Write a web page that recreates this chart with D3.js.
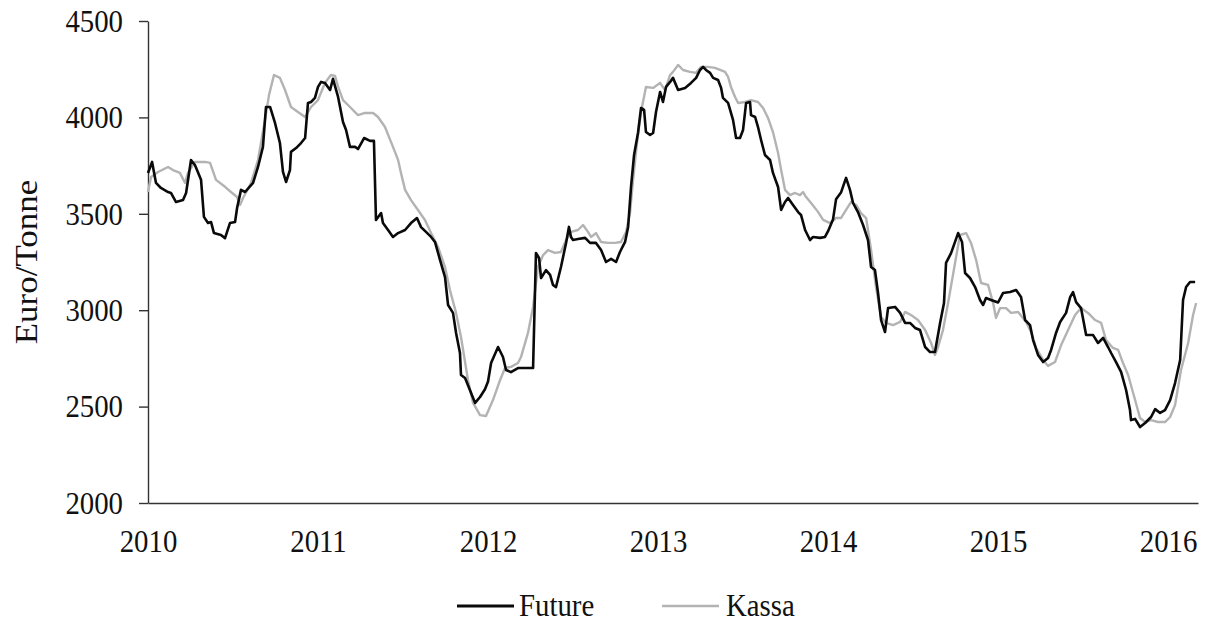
<!DOCTYPE html>
<html>
<head>
<meta charset="utf-8">
<script src="https://cdn.jsdelivr.net/npm/d3@7"></script>
<style>
  html, body { margin: 0; padding: 0; background: #fff; }
  svg { display: block; }
  text { font-family: "Liberation Serif", "Times New Roman", serif; fill: #111; }
</style>
</head>
<body>
<svg id="chart" width="1205" height="625"></svg>
<script>
// ---- data (decimal years, EUR/tonne) ----
const futureYears = [2010.000,2010.024,2010.047,2010.076,2010.118,2010.135,2010.165,2010.206,2010.224,2010.253,
2010.276,2010.312,2010.329,2010.353,2010.371,2010.388,2010.429,2010.453,2010.482,2010.512,
2010.524,2010.547,2010.571,2010.618,2010.647,2010.676,2010.694,2010.718,2010.747,2010.776,
2010.794,2010.812,2010.835,2010.841,2010.871,2010.900,2010.924,2010.941,2010.959,2010.982,
2011.000,2011.018,2011.041,2011.071,2011.088,2011.118,2011.147,2011.165,2011.188,2011.218,
2011.235,2011.271,2011.306,2011.329,2011.341,2011.371,2011.382,2011.412,2011.441,2011.471,
2011.512,2011.547,2011.582,2011.606,2011.635,2011.665,2011.688,2011.718,2011.747,2011.765,
2011.794,2011.812,2011.835,2011.841,2011.865,2011.924,2011.953,2011.982,2012.000,2012.018,
2012.059,2012.088,2012.106,2012.135,2012.176,2012.265,2012.282,2012.300,2012.312,2012.341,
2012.365,2012.382,2012.400,2012.429,2012.459,2012.476,2012.488,2012.500,2012.529,2012.571,
2012.600,2012.635,2012.665,2012.694,2012.724,2012.753,2012.776,2012.806,2012.824,2012.841,
2012.859,2012.882,2012.900,2012.918,2012.929,2012.953,2012.971,2012.988,2013.012,2013.029,
2013.047,2013.071,2013.088,2013.118,2013.159,2013.194,2013.224,2013.247,2013.265,2013.282,
2013.306,2013.324,2013.353,2013.371,2013.382,2013.412,2013.441,2013.459,2013.482,2013.500,
2013.518,2013.541,2013.547,2013.571,2013.588,2013.606,2013.629,2013.659,2013.676,2013.706,
2013.724,2013.747,2013.765,2013.794,2013.824,2013.841,2013.865,2013.894,2013.912,2013.953,
2013.982,2014.000,2014.029,2014.047,2014.076,2014.106,2014.129,2014.147,2014.176,2014.206,
2014.235,2014.253,2014.276,2014.294,2014.312,2014.335,2014.353,2014.394,2014.424,2014.453,
2014.482,2014.512,2014.541,2014.571,2014.600,2014.629,2014.659,2014.682,2014.694,2014.724,
2014.765,2014.788,2014.806,2014.835,2014.865,2014.894,2014.912,2014.929,2014.959,2015.000,
2015.029,2015.071,2015.106,2015.135,2015.159,2015.188,2015.206,2015.235,2015.265,2015.294,
2015.312,2015.341,2015.365,2015.400,2015.424,2015.441,2015.459,2015.488,2015.518,2015.559,
2015.588,2015.618,2015.647,2015.665,2015.694,2015.724,2015.753,2015.776,2015.782,2015.806,
2015.835,2015.865,2015.900,2015.924,2015.953,2015.982,2016.012,2016.041,2016.071,2016.088,
2016.106,2016.129,2016.159];

const futureValues = [3712,3769,3660,3634,3613,3608,3561,3571,3608,3779,
3753,3676,3484,3452,3457,3400,3390,3374,3452,3457,
3530,3624,3613,3660,3743,3847,4054,4054,3971,3867,
3717,3665,3727,3821,3841,3867,3893,4075,4080,4101,
4158,4184,4179,4142,4200,4106,3976,3935,3847,3847,
3836,3893,3878,3878,3468,3504,3452,3416,3380,3400,
3416,3452,3478,3431,3406,3380,3354,3260,3172,3027,
2986,2882,2778,2664,2648,2519,2550,2590,2630,2726,
2809,2757,2690,2679,2700,2700,3297,3271,3167,3208,
3183,3131,3120,3224,3349,3432,3380,3364,3369,3375,
3349,3349,3312,3250,3266,3250,3302,3354,3432,3639,
3805,3919,4049,4039,3924,3909,3919,4028,4132,4080,
4158,4184,4205,4142,4153,4179,4205,4246,4262,4246,
4231,4205,4194,4153,4101,4075,3987,3893,3893,3935,
4075,4080,4012,4002,3950,3883,3805,3779,3712,3639,
3520,3561,3582,3546,3509,3494,3416,3364,3380,3375,
3380,3410,3470,3575,3610,3686,3624,3556,3509,3442,
3364,3224,3208,3089,2949,2887,3011,3017,2986,2934,
2934,2908,2897,2809,2783,2783,2934,3037,3245,3297,
3400,3354,3193,3167,3120,3053,3027,3063,3053,3040,
3089,3094,3105,3068,2949,2923,2845,2768,2731,2752,
2794,2882,2939,2986,3068,3094,3042,3011,2871,2871,
2830,2856,2809,2778,2731,2679,2586,2482,2430,2436,
2394,2415,2446,2487,2467,2482,2534,2622,2742,3053,
3120,3146,3146];

const kassaYears = [2010.000,2010.018,2010.059,2010.118,2010.147,2010.188,2010.218,2010.235,2010.276,2010.335,
2010.365,2010.400,2010.453,2010.488,2010.524,2010.541,2010.559,2010.606,2010.647,2010.688,
2010.712,2010.741,2010.776,2010.806,2010.841,2010.882,2010.924,2010.959,2011.000,2011.041,
2011.076,2011.100,2011.118,2011.147,2011.188,2011.235,2011.276,2011.324,2011.353,2011.394,
2011.441,2011.471,2011.488,2011.512,2011.547,2011.588,2011.629,2011.665,2011.706,2011.747,
2011.776,2011.812,2011.841,2011.882,2011.912,2011.953,2011.988,2012.029,2012.071,2012.100,
2012.135,2012.176,2012.194,2012.235,2012.265,2012.294,2012.324,2012.353,2012.394,2012.429,
2012.459,2012.488,2012.529,2012.559,2012.588,2012.606,2012.635,2012.665,2012.706,2012.747,
2012.782,2012.812,2012.835,2012.853,2012.876,2012.900,2012.929,2012.971,2013.012,2013.041,
2013.071,2013.088,2013.118,2013.147,2013.188,2013.224,2013.253,2013.294,2013.335,2013.365,
2013.394,2013.412,2013.429,2013.453,2013.471,2013.512,2013.547,2013.588,2013.618,2013.647,
2013.676,2013.706,2013.724,2013.747,2013.776,2013.806,2013.835,2013.853,2013.871,2013.900,
2013.941,2013.971,2014.012,2014.047,2014.076,2014.106,2014.135,2014.165,2014.194,2014.224,
2014.253,2014.282,2014.312,2014.341,2014.382,2014.424,2014.453,2014.488,2014.529,2014.571,
2014.606,2014.629,2014.647,2014.676,2014.706,2014.747,2014.776,2014.812,2014.841,2014.871,
2014.900,2014.941,2014.971,2014.988,2015.012,2015.047,2015.076,2015.118,2015.165,2015.194,
2015.224,2015.265,2015.294,2015.335,2015.371,2015.412,2015.453,2015.488,2015.529,2015.571,
2015.606,2015.635,2015.676,2015.706,2015.735,2015.765,2015.806,2015.835,2015.865,2015.900,
2015.941,2015.982,2016.012,2016.041,2016.076,2016.118,2016.147,2016.165];

const kassaValues = [3613,3691,3717,3743,3727,3712,3660,3712,3769,3769,
3764,3676,3640,3613,3587,3546,3582,3660,3779,3987,
4117,4220,4205,4142,4054,4028,4002,4054,4090,4179,
4220,4215,4160,4090,4054,4012,4023,4023,4002,3950,
3847,3779,3712,3624,3571,3520,3468,3400,3328,3224,
3105,2986,2861,2638,2519,2456,2451,2534,2638,2700,
2706,2726,2757,2882,3017,3224,3286,3312,3297,3302,
3364,3406,3416,3442,3406,3380,3400,3354,3349,3349,
3354,3406,3504,3675,3867,4028,4158,4153,4179,4142,
4220,4236,4272,4246,4236,4231,4262,4262,4257,4246,
4236,4210,4158,4106,4075,4080,4090,4080,4049,3997,
3924,3815,3727,3624,3597,3608,3597,3613,3587,3556,
3510,3468,3452,3478,3478,3520,3561,3546,3504,3478,
3312,3120,2965,2934,2923,2939,2991,2975,2949,2897,
2830,2768,2809,2897,3037,3245,3390,3400,3349,3260,
3141,3131,3037,2960,3011,3011,2986,2991,2939,2887,
2804,2742,2711,2731,2819,2897,2975,3011,2986,2949,
2934,2845,2804,2794,2726,2664,2534,2441,2420,2430,
2420,2420,2446,2508,2690,2830,2975,3037];

const yTicks = [2000, 2500, 3000, 3500, 4000, 4500];
const xTicks = [2010, 2011, 2012, 2013, 2014, 2015, 2016];
const seriesNames = ["Future", "Kassa"];
const seriesColors = ["#0a0a0a", "#b3b3b3"];

// ---- drawing ----
const svg = d3.select("#chart");
svg.append("rect").attr("width", 1205).attr("height", 625).attr("fill", "#fff");

const x = d3.scaleLinear().domain([2010, 2016.176]).range([148, 1198]);
const y = d3.scaleLinear().domain([2000, 4500]).range([503, 21]);

const FONT = "'Liberation Serif', 'Times New Roman', serif";
const tickFont = 32, squeeze = 0.9;
const ySize = 9, yPad = 16;

// y axis
const yAxis = svg.append("g")
  .attr("transform", `translate(${x(2010)},0)`)
  .call(d3.axisLeft(y).tickValues(yTicks).tickSize(ySize).tickSizeOuter(0).tickPadding(yPad).tickFormat(d3.format("d")));
yAxis.select(".domain").attr("stroke", "#333").attr("stroke-width", 1.4);
yAxis.selectAll(".tick line").attr("stroke", "#333").attr("stroke-width", 1.4);
yAxis.selectAll(".tick text")
  .attr("font-size", tickFont).attr("font-family", FONT).attr("fill", "#111")
  .attr("x", -(ySize + yPad) / squeeze)
  .attr("transform", `scale(${squeeze},1)`);

// x axis
const xAxis = svg.append("g")
  .attr("transform", `translate(0,${y(2000)})`)
  .call(d3.axisBottom(x).tickValues(xTicks).tickSize(0).tickSizeOuter(0).tickPadding(26).tickFormat(d3.format("d")));
xAxis.select(".domain").attr("stroke", "#333").attr("stroke-width", 1.4);
xAxis.selectAll(".tick text")
  .attr("font-size", tickFont).attr("font-family", FONT).attr("fill", "#111")
  .attr("transform", `scale(${squeeze},1)`);

// y title
svg.append("text")
  .attr("transform", `translate(37,262) rotate(-90) scale(1,${squeeze})`)
  .attr("text-anchor", "middle")
  .attr("font-family", FONT)
  .attr("font-size", 35)
  .text("Euro/Tonne");

const line = d3.line().x(d => x(d[0])).y(d => y(d[1]));
const futureData = futureYears.map((t, i) => [t, futureValues[i]]);
const kassaData = kassaYears.map((t, i) => [t, kassaValues[i]]);

svg.append("path").datum(kassaData)
  .attr("fill", "none").attr("stroke", seriesColors[1]).attr("stroke-width", 2.4)
  .attr("stroke-linejoin", "round").attr("d", line);
svg.append("path").datum(futureData)
  .attr("fill", "none").attr("stroke", seriesColors[0]).attr("stroke-width", 2.6)
  .attr("stroke-linejoin", "round").attr("d", line);

// legend
const legendX = [457, 662];
seriesNames.forEach((name, i) => {
  const g = svg.append("g").attr("transform", `translate(${legendX[i]},606)`);
  g.append("line").attr("x1", 0).attr("x2", 57).attr("y1", 0).attr("y2", 0)
    .attr("stroke", seriesColors[i]).attr("stroke-width", i === 0 ? 2.8 : 2.4);
  g.append("text")
    .attr("transform", `translate(${i === 0 ? 62 : 64},10) scale(${squeeze},1)`)
    .attr("font-family", FONT).attr("font-size", 32).text(name);
});
</script>
</body>
</html>
